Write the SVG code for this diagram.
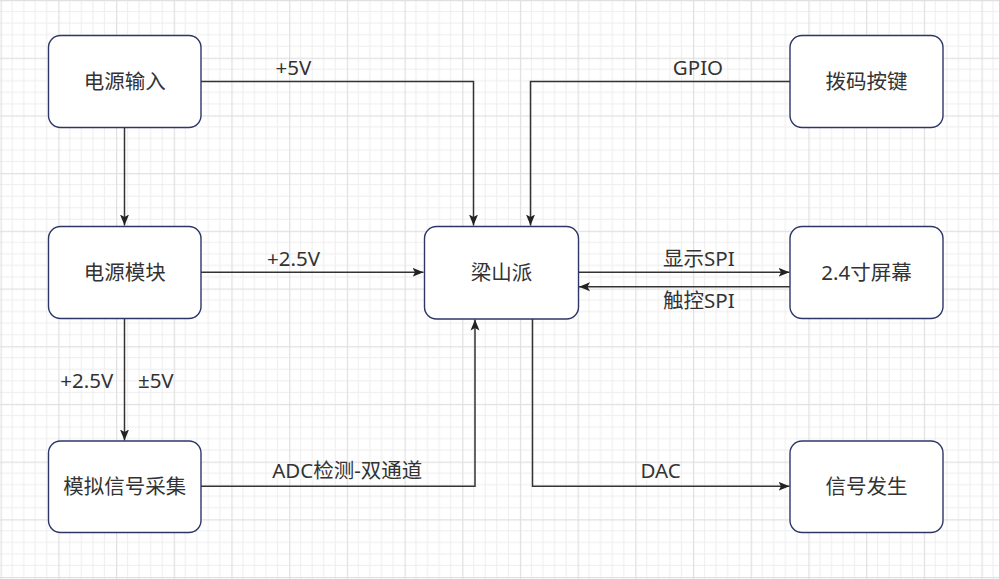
<svg xmlns="http://www.w3.org/2000/svg" width="999" height="579" viewBox="0 0 999 579">
<style>
.box{fill:#ffffff;stroke:#2e3668;stroke-width:1.4}
.lbl{font-family:"Noto Sans","Noto Sans CJK SC",sans-serif;font-size:20.5px;fill:#333333;text-anchor:middle}
.con{fill:none;stroke:#333333;stroke-width:1.5}
</style>
<defs>
<pattern id="grid" patternUnits="userSpaceOnUse" x="0.6" y="0" width="57.7" height="57.7">
<rect x="0" y="0" width="57.7" height="57.7" fill="#ffffff"/>
<g fill="#eeeeee">
<rect x="11.04" y="0" width="1" height="57.7"/>
<rect x="22.58" y="0" width="1" height="57.7"/>
<rect x="34.12" y="0" width="1" height="57.7"/>
<rect x="45.66" y="0" width="1" height="57.7"/>
<rect x="0" y="11.04" width="57.7" height="1"/>
<rect x="0" y="22.58" width="57.7" height="1"/>
<rect x="0" y="34.12" width="57.7" height="1"/>
<rect x="0" y="45.66" width="57.7" height="1"/>
</g>
<g fill="#e0e0e0">
<rect x="0" y="0" width="1.2" height="57.7"/>
<rect x="0" y="0" width="57.7" height="1.2"/>
</g>
</pattern>
<marker id="arr" markerUnits="userSpaceOnUse" markerWidth="12" markerHeight="10" refX="11" refY="5" orient="auto">
<path d="M0,0.5 L11,5 L0,9.5 L2.5,5 Z" fill="#222222"/>
</marker>
</defs>
<rect x="0" y="0" width="999" height="579" fill="url(#grid)"/>

<g id="connectors">
<path class="con" d="M201,81.5 H473.5 V225.5" marker-end="url(#arr)"/>
<path class="con" d="M790,81.5 H530.5 V225.5" marker-end="url(#arr)"/>
<path class="con" d="M124.5,127.5 V225.5" marker-end="url(#arr)"/>
<path class="con" d="M201,272.3 H423.5" marker-end="url(#arr)"/>
<path class="con" d="M578.5,272.3 H789.5" marker-end="url(#arr)"/>
<path class="con" d="M790,286.7 H579" marker-end="url(#arr)"/>
<path class="con" d="M124.5,318.5 V440.5" marker-end="url(#arr)"/>
<path class="con" d="M201,486.3 H475 V319.5" marker-end="url(#arr)"/>
<path class="con" d="M532.5,319 V486.3 H789.5" marker-end="url(#arr)"/>
<text class="lbl" x="293.4" y="75">+5V</text>
<text class="lbl" x="698" y="75">GPIO</text>
<text class="lbl" x="293.5" y="265.5">+2.5V</text>
<text class="lbl" x="698.8" y="266">显示SPI</text>
<text class="lbl" x="698.8" y="308">触控SPI</text>
<text class="lbl" x="86.7" y="388">+2.5V</text>
<text class="lbl" x="155.8" y="388">±5V</text>
<text class="lbl" x="347.2" y="478">ADC检测-双通道</text>
<text class="lbl" x="660.5" y="478">DAC</text>
</g>

<g id="n_power_in">
<rect class="box" x="48.5" y="35.5" width="152.5" height="92" rx="12" ry="12"/>
<text class="lbl" x="124.75" y="88.5">电源输入</text>
</g>
<g id="n_power_mod">
<rect class="box" x="48.5" y="226.5" width="152.5" height="92" rx="12" ry="12"/>
<text class="lbl" x="124.75" y="279.5">电源模块</text>
</g>
<g id="n_adc">
<rect class="box" x="48.5" y="441" width="152.5" height="91.5" rx="12" ry="12"/>
<text class="lbl" x="124.75" y="493.5">模拟信号采集</text>
</g>
<g id="n_lsp">
<rect class="box" x="424.5" y="226.5" width="154" height="92.5" rx="12" ry="12"/>
<text class="lbl" x="501.5" y="279.5">梁山派</text>
</g>
<g id="n_key">
<rect class="box" x="790" y="35.5" width="153" height="92" rx="12" ry="12"/>
<text class="lbl" x="866.5" y="88.5">拨码按键</text>
</g>
<g id="n_screen">
<rect class="box" x="790" y="226.5" width="153" height="92" rx="12" ry="12"/>
<text class="lbl" x="866.5" y="279.5">2.4寸屏幕</text>
</g>
<g id="n_siggen">
<rect class="box" x="790" y="441" width="153" height="91.5" rx="12" ry="12"/>
<text class="lbl" x="866.5" y="493.5">信号发生</text>
</g>
</svg>
